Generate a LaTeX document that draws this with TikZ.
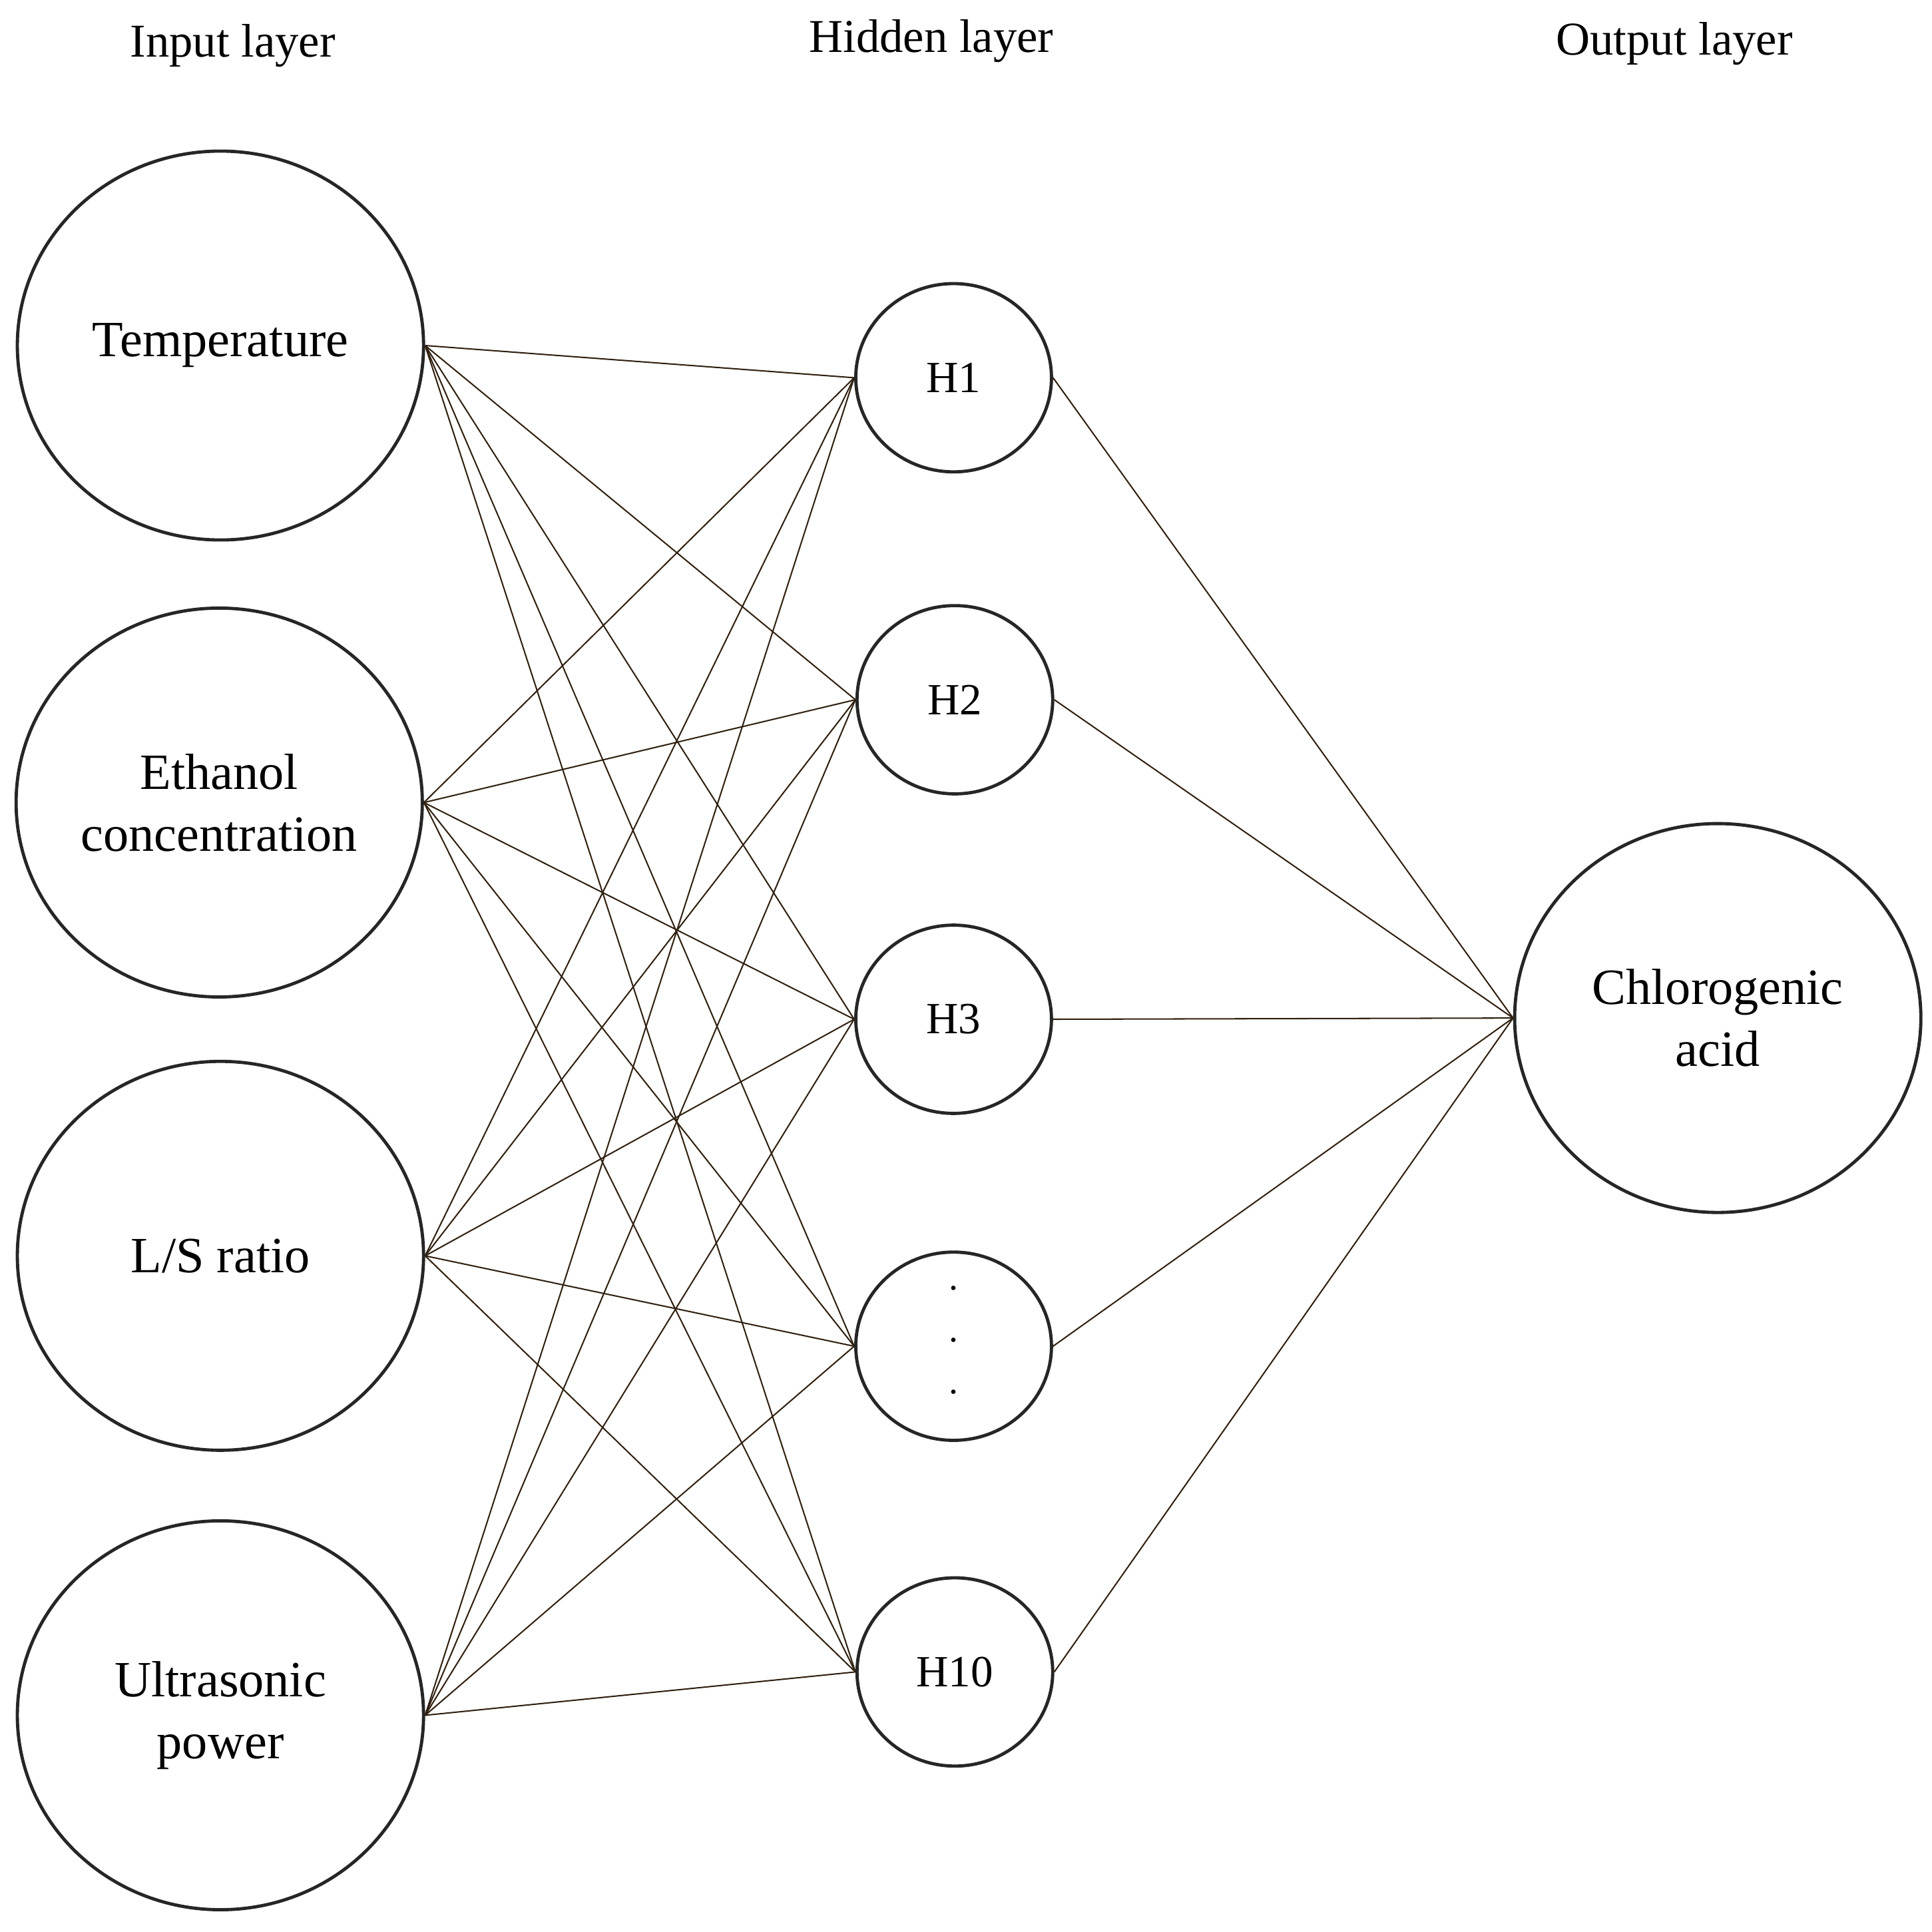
\documentclass[tikz,border=0pt]{standalone}
\usepackage{fontspec}
\setmainfont{Liberation Serif}
\usetikzlibrary{shapes.geometric}
\begin{document}
\begin{tikzpicture}[x=1pt,y=-1pt,
  big/.style={ellipse,draw=black!85,line width=2.6pt,minimum width=328pt,minimum height=314pt,inner sep=0pt,align=center,font=\fontsize{41}{50}\selectfont},
  hid/.style={ellipse,draw=black!85,line width=2.6pt,minimum width=158pt,minimum height=152pt,inner sep=0pt,font=\fontsize{36}{40}\selectfont},
  ttl/.style={font=\fontsize{38}{44}\selectfont},
  dot/.style={font=\fontsize{30}{30}\selectfont,inner sep=0pt},
  wire/.style={draw=black!75!brown,line width=1.1pt}]
\useasboundingbox (0,0) rectangle (1560,1560);
\node[ttl] (t1) at (188,37) {Input layer};
\node[ttl] (t2) at (752,33) {Hidden layer};
\node[ttl] (t3) at (1352,35) {Output layer};
\node[big] (i1) at (178,279) {Temperature};
\node[big] (i2) at (177,648) {Ethanol\\concentration};
\node[big] (i3) at (178,1014) {L/S ratio};
\node[big] (i4) at (178,1385) {Ultrasonic\\power};
\node[hid] (h1) at (770,305) {H1};
\node[hid] (h2) at (771,565) {H2};
\node[hid] (h3) at (770,823) {H3};
\node[hid] (h4) at (770,1087) {};
\node[dot] (d1) at (770,1040) {.};
\node[dot] (d2) at (770,1082) {.};
\node[dot] (d3) at (770,1124) {.};
\node[hid] (h5) at (771,1350) {H10};
\node[big] (o) at (1387,822) {Chlorogenic\\acid};
\foreach \i in {1,...,4}
  \foreach \h in {1,...,5}
    \draw[wire] (i\i.east) -- (h\h.west);
\foreach \h in {1,...,5}
  \draw[wire] (h\h.east) -- (o.west);
\end{tikzpicture}
\end{document}
